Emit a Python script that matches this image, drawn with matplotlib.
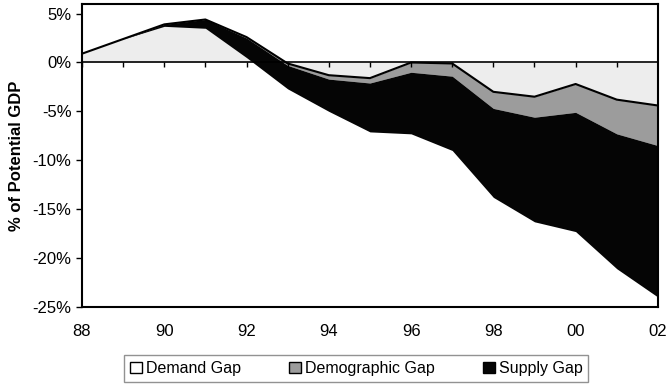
import numpy as np
import matplotlib.pyplot as plt
from matplotlib.patches import Patch

plt.rcParams['font.family'] = ['Liberation Sans', 'DejaVu Sans']

# Дані (% від потенційного ВВП)
years = np.arange(1988, 2003)
year_labels = ['88', '90', '92', '94', '96', '98', '00', '02']
demand_gap = np.array([0.9, 2.4, 3.9, 4.4, 2.6, -0.1, -1.3, -1.6, 0.0, -0.1, -3.0, -3.5, -2.2, -3.8, -4.4])
demographic_gap = np.array([0.0, 0.0, 0.0, 0.0, -0.1, -0.2, -0.4, -0.5, -1.0, -1.3, -1.7, -2.1, -2.9, -3.5, -4.1])
supply_gap = np.array([0.0, 0.0, -0.2, -0.9, -2.0, -2.4, -3.3, -5.0, -6.3, -7.6, -9.1, -10.7, -12.2, -13.8, -15.5])

c_demand = '#ededed'
c_demo = '#9c9c9c'
c_supply = '#050505'

lvl1 = demand_gap
lvl2 = lvl1 + demographic_gap
lvl3 = lvl2 + supply_gap

fig = plt.figure(figsize=(6.72, 3.85), dpi=100)
ax = fig.add_axes([0.122, 0.203, 0.857, 0.787])

ax.fill_between(years, 0, lvl1, color=c_demand, lw=0)
ax.fill_between(years, lvl1, lvl2, color=c_demo, lw=0)
ax.fill_between(years, lvl2, lvl3, color=c_supply, lw=0)
ax.plot(years, lvl1, color='black', lw=1.5)

# вісь категорій проходить через 0
ax.axhline(0, color='black', lw=1.2)
ax.vlines(years, -0.45, 0, color='black', lw=1)

ax.set_xlim(1988, 2002)
ax.set_ylim(-25, 6)
ax.set_xticks(years[::2])
ax.set_xticklabels(year_labels)
ax.tick_params(axis='x', length=0, pad=12, labelsize=12)
ax.set_yticks(np.arange(-25, 6, 5))
ax.set_yticklabels([f'{v}%' for v in range(-25, 6, 5)])
ax.tick_params(axis='y', length=4, width=1, labelsize=12, direction='out')

for s in ax.spines.values():
    s.set_linewidth(1.5)
    s.set_color('black')

ax.set_ylabel('% of Potential GDP', fontsize=12, fontweight='bold', labelpad=6)

handles = [
    Patch(facecolor='white', edgecolor='black', label='Demand Gap'),
    Patch(facecolor=c_demo, edgecolor='black', label='Demographic Gap'),
    Patch(facecolor=c_supply, edgecolor='black', label='Supply Gap'),
]
leg = fig.legend(handles=handles, loc='center', bbox_to_anchor=(0.53, 0.043), ncol=3,
                 fontsize=11.5, frameon=True, fancybox=False, edgecolor='#777777',
                 handlelength=0.75, handleheight=0.75, handletextpad=0.25,
                 columnspacing=3.0, borderpad=0.35, borderaxespad=0)
leg.get_frame().set_linewidth(1)

fig.savefig('out.png', dpi=100)
